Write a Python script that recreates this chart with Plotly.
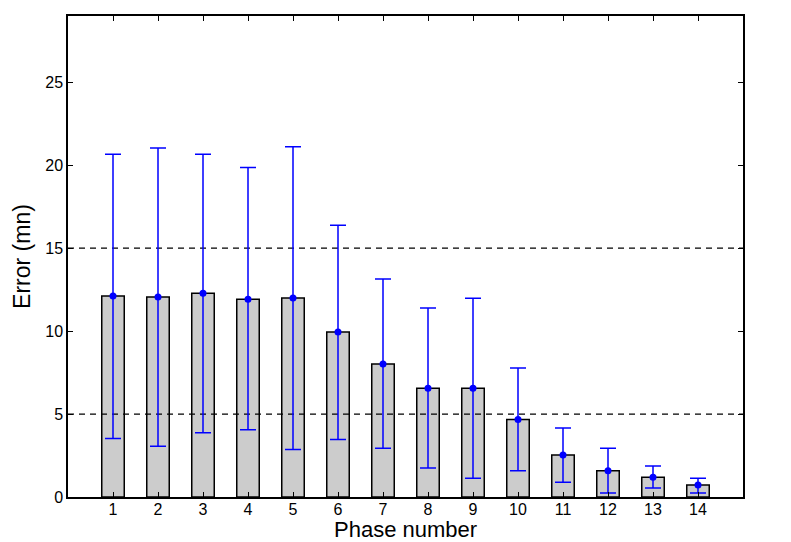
import plotly.graph_objects as go

phases = list(range(1, 15))
mean_error = [12.12, 12.06, 12.28, 11.92, 12.0, 9.95, 8.02, 6.55, 6.55, 4.68, 2.53, 1.59, 1.19, 0.72]
upper = [20.66, 21.04, 20.66, 19.87, 21.12, 16.38, 13.14, 11.39, 11.98, 7.78, 4.16, 2.94, 1.87, 1.13]
lower = [3.52, 3.06, 3.88, 4.06, 2.87, 3.46, 2.94, 1.75, 1.13, 1.59, 0.89, 0.24, 0.54, 0.24]
thresholds = [5, 15]
x_range = [0, 15]
y_range = [0, 29]
y_ticks = [0, 5, 10, 15, 20, 25]
x_title = "Phase number"
y_title = "Error (mn)"

err_plus = [u - m for u, m in zip(upper, mean_error)]
err_minus = [m - l for m, l in zip(mean_error, lower)]

FONT = "Liberation Sans, Arial, sans-serif"

fig = go.Figure()
fig.add_trace(go.Bar(
    x=phases, y=mean_error, width=0.5,
    marker=dict(color="#cccccc", line=dict(color="black", width=1.5)),
    showlegend=False,
))
for t in thresholds:
    fig.add_trace(go.Scatter(
        x=x_range, y=[t, t], mode="lines",
        line=dict(color="black", width=1.2, dash="6px,5px"),
        showlegend=False, hoverinfo="skip",
    ))
fig.add_trace(go.Scatter(
    x=phases, y=mean_error, mode="markers",
    marker=dict(color="#0000ff", size=7),
    error_y=dict(type="data", symmetric=False, array=err_plus, arrayminus=err_minus,
                 color="#0000ff", thickness=1.5, width=8),
    showlegend=False,
))

axis_common = dict(
    showline=True, linecolor="black", linewidth=1.5, mirror="ticks",
    ticks="inside", ticklen=5, tickwidth=1, tickcolor="black",
    showgrid=False, zeroline=False, automargin=False,
    tickfont=dict(family=FONT, size=16, color="black"),
)
fig.update_xaxes(range=x_range, tickmode="array", tickvals=phases,
                 ticklabelstandoff=-3, **axis_common)
fig.update_yaxes(range=y_range, tickmode="array", tickvals=y_ticks,
                 title=dict(text=y_title, font=dict(family=FONT, size=23, color="black"), standoff=8),
                 **axis_common)
fig.add_annotation(
    text=x_title, xref="paper", yref="paper", x=0.5, y=0,
    xanchor="center", yanchor="bottom", yshift=-46, showarrow=False,
    font=dict(family=FONT, size=22, color="black"), borderpad=0,
)
fig.update_layout(
    width=791, height=542,
    margin=dict(l=68, r=48, t=16, b=45),
    plot_bgcolor="white", paper_bgcolor="white",
    font=dict(family=FONT, color="black"),
)
fig.write_html("out.html", config={"displayModeBar": False},
               post_script="document.body.style.margin='0';document.body.style.overflow='hidden';")
